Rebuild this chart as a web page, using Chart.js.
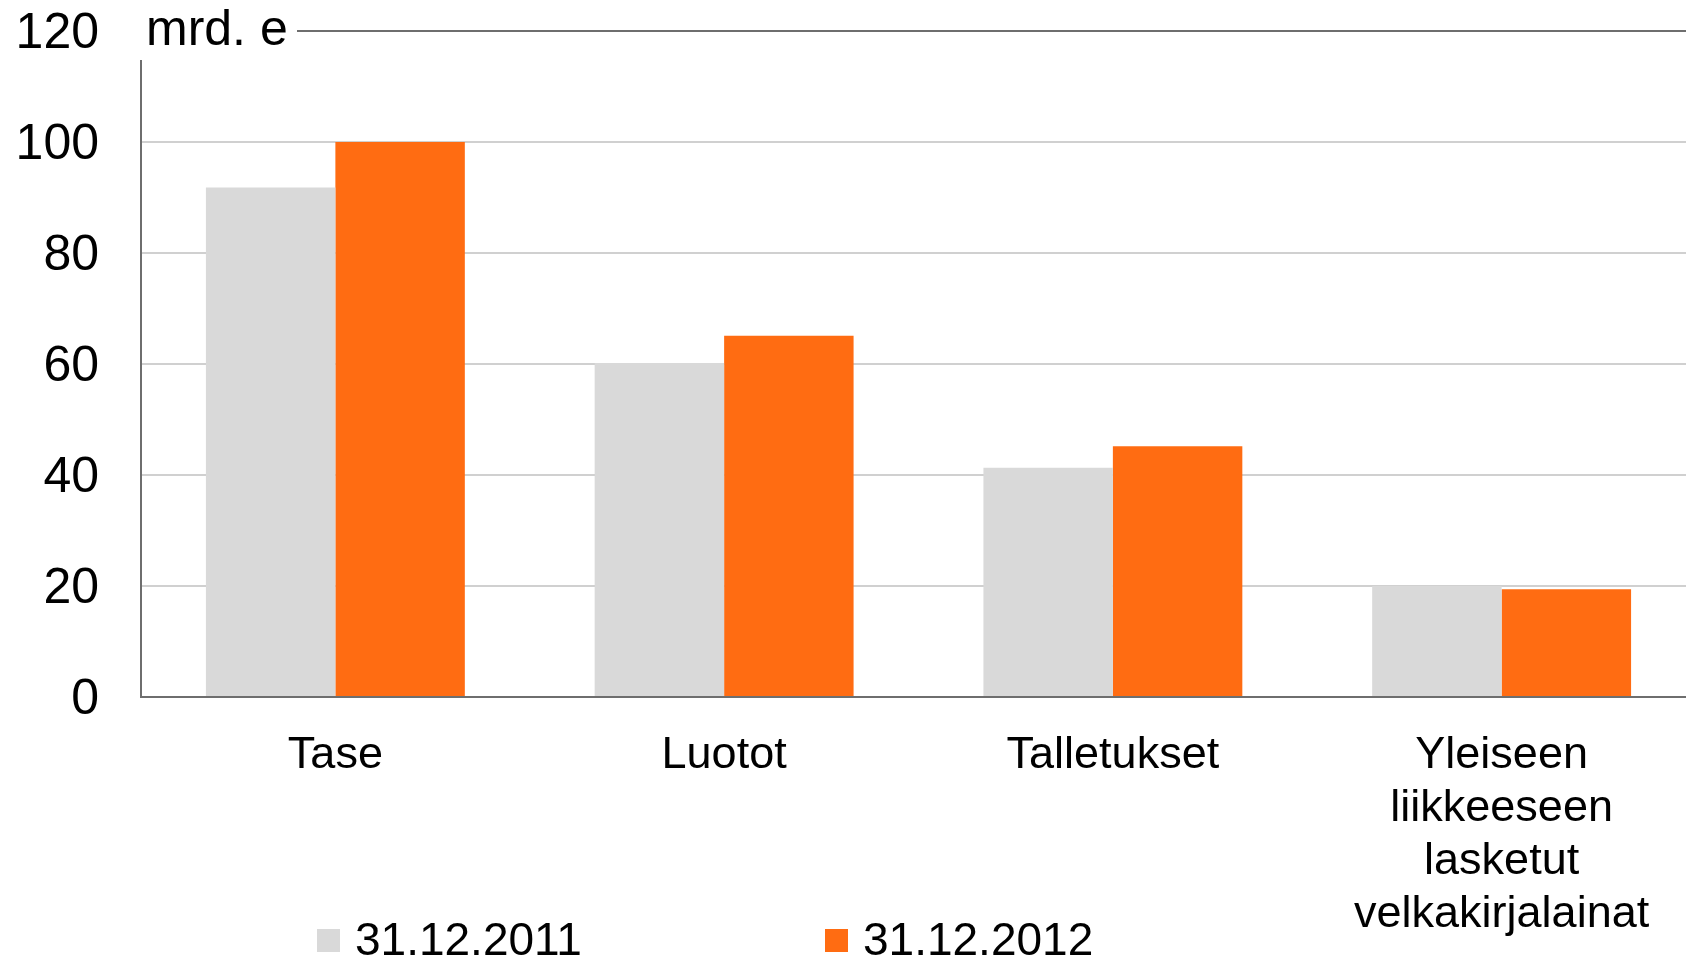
<!DOCTYPE html>
<html>
<head>
<meta charset="utf-8">
<script src="https://cdn.jsdelivr.net/npm/chart.js@4/dist/chart.umd.min.js"></script>
<style>
  body { margin: 0; background: #fff; overflow: hidden; }
  #wrap { width: 1686px; height: 963px; overflow: hidden; }
</style>
</head>
<body>
<div id="wrap"><canvas id="chart" width="1700" height="963"></canvas></div>
<script>
const categories = [
  "Tase",
  "Luotot",
  "Talletukset",
  ["Yleiseen", "liikkeeseen", "lasketut", "velkakirjalainat"],
];
const seriesLabels = ["31.12.2011", "31.12.2012"];
const values2011 = [91.8, 60.2, 41.3, 20.0];
const values2012 = [100.0, 65.1, 45.2, 19.4];
const yTicks = [0, 20, 40, 60, 80, 100, 120];
const unitLabel = "mrd. e";

const FONT = "'Liberation Sans', Arial, sans-serif";

// unit text sits on top of the 120 line, cutting the axis top
const unitPlugin = {
  id: "unitLabel",
  afterDraw(chart) {
    const ctx = chart.ctx;
    const y = chart.scales.y;
    const top = y.getPixelForValue(120);
    ctx.save();
    ctx.fillStyle = "#fff";
    ctx.fillRect(y.right - 6, top - 12, 162, 41);
    ctx.fillStyle = "#000";
    ctx.font = "50px " + FONT;
    ctx.textBaseline = "alphabetic";
    ctx.fillText(unitLabel, 146, top + 14);
    ctx.restore();
  },
};

const legendPlugin = {
  id: "bottomLegend",
  afterDraw(chart) {
    const ctx = chart.ctx;
    ctx.save();
    ctx.font = "46px " + FONT;
    ctx.textBaseline = "middle";
    chart.data.datasets.forEach((ds, i) => {
      const x = 317 + i * 508;
      ctx.fillStyle = ds.backgroundColor;
      ctx.fillRect(x, 929, 23, 23);
      ctx.fillStyle = "#000";
      ctx.fillText(ds.label, x + 38, 942);
    });
    ctx.restore();
  },
};

new Chart(document.getElementById("chart"), {
  type: "bar",
  data: {
    labels: categories,
    datasets: [
      { label: seriesLabels[0], data: values2011, backgroundColor: "#d9d9d9" },
      { label: seriesLabels[1], data: values2012, backgroundColor: "#ff6c12" },
    ],
  },
  options: {
    responsive: false,
    animation: false,
    layout: { padding: { top: 31, right: 4, left: 0, bottom: 0 } },
    datasets: { bar: { categoryPercentage: 0.666, barPercentage: 1, borderWidth: 0 } },
    plugins: { legend: { display: false }, tooltip: { enabled: false } },
    scales: {
      x: {
        grid: { display: false },
        border: { display: true, color: "#6e6e6e", width: 2 },
        ticks: {
          color: "#000",
          font: { family: FONT, size: 45, lineHeight: 1.18 },
          padding: 24,
          maxRotation: 0,
          autoSkip: false,
        },
        afterFit(scale) {
          scale.height = 266;
          scale.paddingLeft = 0;
          scale.paddingRight = 0;
        },
      },
      y: {
        min: 0,
        max: 120,
        afterBuildTicks(scale) { scale.ticks = yTicks.map((v) => ({ value: v })); },
        grid: {
          drawTicks: false,
          lineWidth: 2,
          color: (c) => (c.tick && c.tick.value === 120 ? "#6e6e6e" : "#d0d0d0"),
        },
        border: { display: true, color: "#6e6e6e", width: 2 },
        ticks: {
          color: "#000",
          font: { family: FONT, size: 50 },
          padding: 42,
          labelOffset: 3,
        },
        afterFit(scale) {
          scale.width = 141;
          scale.paddingTop = 0;
          scale.paddingBottom = 0;
        },
      },
    },
  },
  plugins: [unitPlugin, legendPlugin],
});
</script>
</body>
</html>
